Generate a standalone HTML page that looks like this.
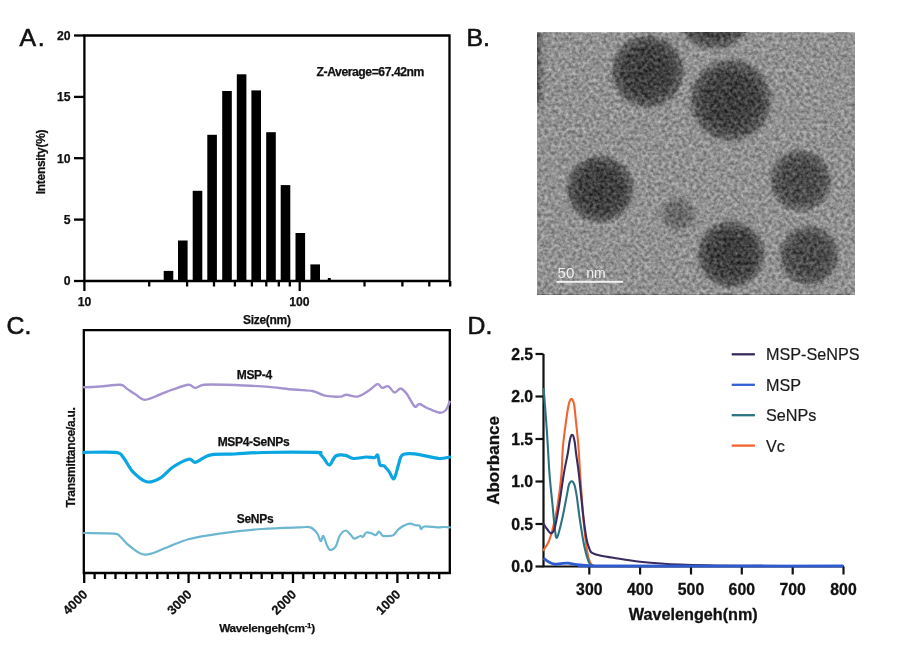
<!DOCTYPE html>
<html><head><meta charset="utf-8"><style>
html,body{margin:0;padding:0;background:#fff;}
svg{display:block;filter:blur(0.3px);}
</style></head><body>
<svg width="900" height="645" viewBox="0 0 900 645">
<rect width="900" height="645" fill="#fff"/>
<g stroke="#000" stroke-width="2.3" fill="none">
<path d="M84.4,35.5 H449.5 V281 H84.4 Z"/>
<path d="M74,281.0 H84.4"/>
<path d="M74,219.6 H84.4"/>
<path d="M74,158.2 H84.4"/>
<path d="M74,96.9 H84.4"/>
<path d="M74,35.5 H84.4"/>
<path d="M84.4,281 V291"/>
<path d="M299.7,281 V291"/>
<path d="M149.2,281 V286.5"/>
<path d="M187.1,281 V286.5"/>
<path d="M214.0,281 V286.5"/>
<path d="M234.9,281 V286.5"/>
<path d="M251.9,281 V286.5"/>
<path d="M266.3,281 V286.5"/>
<path d="M278.8,281 V286.5"/>
<path d="M289.8,281 V286.5"/>
<path d="M364.5,281 V286.5"/>
<path d="M402.4,281 V286.5"/>
<path d="M429.3,281 V286.5"/>
<path d="M450.2,281 V286.5"/>
</g>
<g font-family='"Liberation Sans", sans-serif' font-weight="bold" fill="#111" stroke="#111" stroke-width="0.25" font-size="12.2" text-anchor="end">
<text x="70.6" y="285.4">0</text>
<text x="70.6" y="224.0">5</text>
<text x="70.6" y="162.7">10</text>
<text x="70.6" y="101.3">15</text>
<text x="70.6" y="39.9">20</text>
</g>
<g font-family='"Liberation Sans", sans-serif' font-weight="bold" fill="#111" stroke="#111" stroke-width="0.25" font-size="12.2" text-anchor="middle">
<text x="84.6" y="305.5">10</text><text x="299.3" y="305.5">100</text>
</g>
<g font-family='"Liberation Sans", sans-serif' font-weight="bold" fill="#111" stroke="#111" stroke-width="0.25" font-size="12" letter-spacing="-0.3" text-anchor="middle">
<text x="266.8" y="323.9">Size(nm)</text>
<text transform="translate(44.8,162) rotate(-90)">Intensity(%)</text>
</g>
<text x="316.6" y="76.2" font-family='"Liberation Sans", sans-serif' font-weight="bold" fill="#111" stroke="#111" stroke-width="0.25" font-size="12.2" letter-spacing="-0.45">Z-Average=67.42nm</text>
<g fill="#000">
<rect x="163.7" y="270.9" width="9.6" height="10.1"/>
<rect x="178" y="240.5" width="9.6" height="40.5"/>
<rect x="192.7" y="190.8" width="9.6" height="90.2"/>
<rect x="207.3" y="134.8" width="9.6" height="146.2"/>
<rect x="222.2" y="91" width="9.6" height="190.0"/>
<rect x="236.8" y="74.3" width="9.6" height="206.7"/>
<rect x="251.4" y="90.4" width="9.6" height="190.6"/>
<rect x="266.2" y="132.2" width="9.6" height="148.8"/>
<rect x="280.7" y="185.1" width="9.6" height="95.9"/>
<rect x="295.5" y="233" width="9.6" height="48.0"/>
<rect x="310.4" y="264.4" width="9.6" height="16.6"/>
<rect x="327.8" y="278" width="3" height="3"/>
</g>
<g font-family='"Liberation Sans", sans-serif' font-size="24.8" fill="#111" stroke="#111" stroke-width="0.6">
<text x="19.6" y="46" letter-spacing="1.6">A.</text><text x="466.5" y="46">B.</text><text x="6.5" y="334">C.</text><text x="467.5" y="333.5">D.</text>
</g>
<defs>
<filter id="noise" x="537" y="32.8" width="318" height="262" filterUnits="userSpaceOnUse" color-interpolation-filters="sRGB"><feTurbulence type="fractalNoise" baseFrequency="0.29" numOctaves="2" seed="7" result="t"/><feColorMatrix in="t" type="matrix" values="1 0 0 0 0  1 0 0 0 0  1 0 0 0 0  0 0 0 0 1" result="g"/><feComposite in="SourceGraphic" in2="g" operator="arithmetic" k1="0" k2="1" k3="0.5" k4="-0.25"/><feGaussianBlur stdDeviation="0.6"/></filter>
<radialGradient id="np"><stop offset="0" stop-color="#3c3c3c"/><stop offset="0.6" stop-color="#424242"/><stop offset="0.85" stop-color="#606060"/><stop offset="1" stop-color="#919191" stop-opacity="0"/></radialGradient>
<radialGradient id="np2"><stop offset="0" stop-color="#484848"/><stop offset="0.6" stop-color="#4d4d4d"/><stop offset="0.85" stop-color="#676767"/><stop offset="1" stop-color="#919191" stop-opacity="0"/></radialGradient>
<radialGradient id="npl"><stop offset="0" stop-color="#646464"/><stop offset="0.55" stop-color="#707070"/><stop offset="1" stop-color="#919191" stop-opacity="0"/></radialGradient>
<linearGradient id="ledge" x1="0" x2="1" y1="0" y2="0"><stop offset="0" stop-color="#505050"/><stop offset="1" stop-color="#919191" stop-opacity="0"/></linearGradient>
</defs>
<g filter="url(#noise)">
<rect x="537" y="32.8" width="318" height="262" fill="#919191"/>
<rect x="537" y="32.8" width="12" height="70" fill="url(#ledge)"/>
<svg x="537" y="32.8" width="318" height="262" viewBox="537 32.8 318 262" overflow="hidden">
<circle cx="647.7" cy="71.5" r="40" fill="url(#np)"/>
<circle cx="714" cy="10" r="43" fill="url(#np)"/>
<circle cx="730.8" cy="100.2" r="45" fill="url(#np)"/>
<circle cx="600" cy="189" r="37" fill="url(#np)"/>
<circle cx="800.6" cy="180.5" r="34" fill="url(#np2)"/>
<circle cx="731" cy="254.2" r="37" fill="url(#np)"/>
<circle cx="809" cy="255.5" r="33" fill="url(#np2)"/>
<circle cx="678" cy="214.5" r="23" fill="url(#npl)"/>
</svg>
</g>
<g font-family='"Liberation Sans", sans-serif' font-size="14" fill="#eeeeee"><text x="557.6" y="278.2" font-size="15.2">50</text><text x="586.2" y="278">nm</text></g>
<rect x="556.4" y="280.8" width="66.7" height="2" fill="#f2f2f2"/>
<g stroke="#000" stroke-width="2.3" fill="none">
<path d="M83.8,330.2 H449.8 V573 H83.8 Z"/>
<path d="M84.2,573 V583"/>
<path d="M94.6,573 V579"/>
<path d="M105.1,573 V579"/>
<path d="M115.5,573 V579"/>
<path d="M126.0,573 V579"/>
<path d="M136.4,573 V579"/>
<path d="M146.8,573 V579"/>
<path d="M157.3,573 V579"/>
<path d="M167.7,573 V579"/>
<path d="M178.2,573 V579"/>
<path d="M188.6,573 V583"/>
<path d="M199.0,573 V579"/>
<path d="M209.5,573 V579"/>
<path d="M219.9,573 V579"/>
<path d="M230.4,573 V579"/>
<path d="M240.8,573 V579"/>
<path d="M251.2,573 V579"/>
<path d="M261.7,573 V579"/>
<path d="M272.1,573 V579"/>
<path d="M282.6,573 V579"/>
<path d="M293.0,573 V583"/>
<path d="M303.4,573 V579"/>
<path d="M313.9,573 V579"/>
<path d="M324.3,573 V579"/>
<path d="M334.8,573 V579"/>
<path d="M345.2,573 V579"/>
<path d="M355.6,573 V579"/>
<path d="M366.1,573 V579"/>
<path d="M376.5,573 V579"/>
<path d="M387.0,573 V579"/>
<path d="M397.4,573 V583"/>
<path d="M407.8,573 V579"/>
<path d="M418.3,573 V579"/>
<path d="M428.7,573 V579"/>
<path d="M439.2,573 V579"/>
</g>
<g fill="none" stroke-linejoin="round" stroke-linecap="round">
<path d="M84.0,387.3 C86.7,387.2 94.0,386.9 100.0,386.5 C106.0,386.1 115.9,384.5 120.3,384.8 C124.7,385.1 124.0,387.0 126.5,388.5 C128.9,390.0 131.9,392.1 135.0,394.0 C138.1,395.9 140.9,399.6 145.1,399.7 C149.3,399.8 155.3,396.2 160.0,394.5 C164.7,392.8 168.2,391.0 173.0,389.4 C177.8,387.8 184.8,385.1 188.5,384.8 C192.2,384.6 192.7,387.9 195.3,387.9 C197.9,387.9 199.1,385.3 204.0,384.8 C208.9,384.3 215.3,384.5 225.0,384.8 C234.7,385.1 250.7,385.6 262.0,386.4 C273.3,387.2 284.6,388.7 293.0,389.5 C301.4,390.3 307.1,390.0 312.4,391.0 C317.7,392.0 320.1,394.7 324.8,395.6 C329.5,396.5 336.7,396.8 340.3,396.6 C343.9,396.5 343.7,394.7 346.5,394.7 C349.3,394.7 353.7,397.2 357.3,396.6 C360.9,396.0 364.8,393.1 368.2,391.0 C371.6,388.9 375.2,384.7 377.5,384.2 C379.8,383.7 380.3,387.5 382.1,387.9 C383.9,388.2 386.2,385.5 388.3,386.3 C390.4,387.1 392.4,392.1 394.5,392.5 C396.6,392.9 398.6,388.2 400.7,388.5 C402.8,388.8 404.6,391.1 406.9,394.1 C409.2,397.1 412.6,404.9 414.7,406.5 C416.8,408.1 417.2,403.8 419.3,404.0 C421.4,404.2 423.7,406.6 427.1,408.0 C430.5,409.4 436.4,412.3 439.5,412.7 C442.6,413.1 444.0,412.0 445.7,410.2 C447.4,408.4 449.0,403.2 449.7,401.8" stroke="#a593d0" stroke-width="2.4"/>
<path d="M84.0,452.4 C89.3,452.4 109.0,451.5 115.6,452.4 C122.2,453.3 120.6,454.4 123.4,457.6 C126.2,460.8 128.8,467.6 132.7,471.6 C136.6,475.6 141.9,480.8 146.6,481.8 C151.2,482.8 156.2,480.3 160.6,477.8 C165.0,475.3 168.3,470.1 173.0,467.0 C177.7,463.9 184.8,460.0 188.5,459.2 C192.2,458.4 192.7,462.6 195.3,462.3 C197.9,462.0 201.2,458.9 204.0,457.6 C206.8,456.3 207.2,455.2 212.4,454.6 C217.6,454.0 226.7,454.4 235.0,454.0 C243.3,453.6 248.5,452.8 262.0,452.5 C275.5,452.2 306.4,452.2 316.0,452.4 C325.6,452.6 318.4,452.5 319.7,453.5 C321.0,454.5 322.4,456.6 324.0,458.5 C325.6,460.4 327.4,465.4 329.4,465.0 C331.4,464.6 333.1,457.6 335.8,456.0 C338.5,454.4 342.6,454.9 345.5,455.3 C348.4,455.7 350.0,458.2 353.5,458.5 C357.0,458.8 362.9,457.1 366.4,457.0 C369.9,456.9 372.5,458.0 374.4,457.7 C376.3,457.4 376.8,454.1 377.7,455.3 C378.6,456.5 378.9,463.2 380.0,465.0 C381.1,466.8 382.5,464.7 384.0,465.8 C385.5,466.9 387.3,469.4 389.0,471.5 C390.7,473.6 392.4,479.9 394.0,478.7 C395.6,477.5 397.3,468.1 398.6,464.2 C399.9,460.3 400.0,457.1 401.9,455.3 C403.8,453.6 406.5,453.7 410.0,453.7 C413.5,453.7 418.0,454.5 422.8,455.3 C427.6,456.1 434.5,458.2 439.0,458.5 C443.5,458.8 447.9,457.2 449.7,457.0" stroke="#0aa6e2" stroke-width="3.2"/>
<path d="M84.0,533.0 C89.0,533.1 108.0,533.0 114.0,533.6 C120.0,534.2 117.7,534.6 120.3,536.7 C122.9,538.8 125.5,543.0 129.6,546.0 C133.7,549.0 138.9,554.5 145.1,554.7 C151.3,555.0 159.6,550.1 166.8,547.5 C174.0,544.9 179.7,541.5 188.5,539.2 C197.3,536.9 207.2,535.3 219.5,533.6 C231.8,531.9 248.6,530.0 262.0,529.0 C275.4,528.0 291.9,527.7 300.0,527.4 C308.1,527.1 307.4,526.4 310.3,527.4 C313.2,528.4 315.5,531.1 317.2,533.4 C318.9,535.7 319.7,540.8 320.7,541.2 C321.7,541.6 322.3,535.4 323.3,536.0 C324.3,536.6 325.6,542.3 326.7,544.6 C327.8,546.9 328.5,549.5 330.0,549.8 C331.5,550.1 334.2,548.6 335.8,546.3 C337.4,544.0 338.0,538.6 339.6,536.0 C341.2,533.4 343.5,530.5 345.5,530.5 C347.5,530.5 350.2,534.6 351.7,536.0 C353.1,537.4 352.8,538.6 354.2,538.6 C355.6,538.6 358.9,536.3 360.3,536.0 C361.8,535.7 361.9,537.5 362.9,536.9 C363.9,536.3 364.9,533.2 366.4,532.6 C367.8,532.0 370.0,533.0 371.6,533.4 C373.2,533.8 374.6,535.4 375.8,535.1 C377.0,534.8 377.9,531.6 379.0,531.7 C380.1,531.8 381.2,535.0 382.7,535.7 C384.2,536.4 386.2,536.1 388.0,536.0 C389.8,535.9 391.6,536.2 393.4,535.1 C395.2,534.0 396.8,530.7 398.7,529.1 C400.6,527.5 402.8,526.2 404.7,525.3 C406.6,524.4 408.1,523.6 410.0,523.6 C411.9,523.6 414.4,524.9 416.0,525.3 C417.6,525.6 418.7,525.1 419.5,525.7 C420.3,526.3 420.2,529.0 421.0,529.1 C421.8,529.2 421.8,526.8 424.5,526.5 C427.2,526.2 434.0,527.3 437.3,527.4 C440.6,527.5 442.1,527.0 444.2,527.0 C446.3,527.0 448.9,527.3 449.8,527.4" stroke="#6cb6d0" stroke-width="2.2"/>
</g>
<g font-family='"Liberation Sans", sans-serif' font-weight="bold" fill="#111" stroke="#111" stroke-width="0.25" font-size="12" letter-spacing="-0.3" text-anchor="middle">
<text x="254.3" y="379">MSP-4</text><text x="253.5" y="446">MSP4-SeNPs</text><text x="255" y="522.8">SeNPs</text>
<text transform="translate(74.6,457.5) rotate(-90)">Transmittance/a.u.</text>
</g>
<g font-family='"Liberation Sans", sans-serif' font-weight="bold" fill="#111" stroke="#111" stroke-width="0.25" font-size="12.8" text-anchor="end">
<text transform="translate(88.2,595.3) rotate(-45)">4000</text>
<text transform="translate(192.6,595.3) rotate(-45)">3000</text>
<text transform="translate(297.0,595.3) rotate(-45)">2000</text>
<text transform="translate(401.4,595.3) rotate(-45)">1000</text>
</g>
<text x="219.2" y="631.9" font-family='"Liberation Sans", sans-serif' font-weight="bold" fill="#111" stroke="#111" stroke-width="0.25" font-size="11.8" letter-spacing="-0.3">Wavelengeh(cm<tspan dy="-4.2" font-size="8">-1</tspan><tspan dy="4.2">)</tspan></text>
<g stroke="#111" stroke-width="2.2" fill="none">
<path d="M543.5,354 V566.5 H843.5"/>
<path d="M535.5,566.5 H543.5"/>
<path d="M535.5,524.0 H543.5"/>
<path d="M535.5,481.5 H543.5"/>
<path d="M535.5,439.0 H543.5"/>
<path d="M535.5,396.5 H543.5"/>
<path d="M535.5,354.0 H543.5"/>
<path d="M589.3,566.5 V574.5"/>
<path d="M640.1,566.5 V574.5"/>
<path d="M691.0,566.5 V574.5"/>
<path d="M741.8,566.5 V574.5"/>
<path d="M792.7,566.5 V574.5"/>
<path d="M843.5,566.5 V574.5"/>
</g>
<g font-family='"Liberation Sans", sans-serif' font-weight="bold" font-size="15.8" fill="#111" stroke="#111" stroke-width="0.3" text-anchor="end">
<text x="533.1" y="572.1">0.0</text>
<text x="533.1" y="529.6">0.5</text>
<text x="533.1" y="487.1">1.0</text>
<text x="533.1" y="444.6">1.5</text>
<text x="533.1" y="402.1">2.0</text>
<text x="533.1" y="359.6">2.5</text>
</g>
<g font-family='"Liberation Sans", sans-serif' font-weight="bold" font-size="15.8" fill="#111" stroke="#111" stroke-width="0.3" text-anchor="middle">
<text x="589.3" y="594.6">300</text>
<text x="640.1" y="594.6">400</text>
<text x="691.0" y="594.6">500</text>
<text x="741.8" y="594.6">600</text>
<text x="792.7" y="594.6">700</text>
<text x="843.5" y="594.6">800</text>
</g>
<text x="693.3" y="620" text-anchor="middle" font-family='"Liberation Sans", sans-serif' font-weight="bold" font-size="16.2" fill="#111" stroke="#111" stroke-width="0.3">Wavelengeh(nm)</text>
<text transform="translate(499,460.4) rotate(-90)" text-anchor="middle" font-family='"Liberation Sans", sans-serif' font-weight="bold" font-size="17" fill="#111" stroke="#111" stroke-width="0.3">Aborbance</text>
<g fill="none" stroke-linejoin="round" stroke-linecap="round" stroke-width="2.1">
<path d="M543.5,550.2 C544.4,548.7 547.2,545.2 548.8,541.3 C550.4,537.4 551.8,532.7 553.3,526.6 C554.8,520.5 556.4,513.1 557.7,504.5 C559.1,495.9 560.5,484.8 561.4,475.0 C562.3,465.2 562.1,455.3 563.0,445.8 C563.9,436.3 565.6,424.7 566.5,417.9 C567.4,411.1 568.0,408.0 568.6,405.0 C569.2,402.0 569.7,401.0 570.2,400.0 C570.7,399.0 571.0,399.1 571.4,399.1 C571.8,399.1 572.1,399.0 572.6,400.0 C573.1,401.0 573.7,402.0 574.2,405.0 C574.7,408.0 574.9,411.1 575.6,417.9 C576.3,424.7 577.6,435.6 578.4,445.8 C579.2,456.0 579.6,466.9 580.5,479.3 C581.4,491.7 582.4,507.9 583.5,520.0 C584.6,532.1 586.1,544.6 587.2,551.7 C588.3,558.8 589.1,560.2 590.1,562.5 C591.1,564.8 592.5,565.0 593.0,565.5" stroke="#f0652e"/>
<path d="M543.7,389.0 C544.2,395.8 545.8,415.7 546.8,430.0 C547.8,444.3 548.6,462.6 549.6,475.0 C550.6,487.4 551.6,495.7 552.5,504.5 C553.4,513.3 554.0,522.5 554.7,528.0 C555.5,533.5 555.8,539.2 557.0,537.7 C558.2,536.2 560.5,526.0 562.1,519.2 C563.7,512.4 565.4,502.6 566.5,497.1 C567.6,491.6 568.0,488.5 568.6,486.0 C569.2,483.5 569.9,482.8 570.4,482.0 C570.9,481.2 571.3,481.2 571.7,481.2 C572.1,481.2 572.5,481.2 573.0,482.0 C573.5,482.8 574.1,483.5 574.8,486.0 C575.4,488.5 576.1,491.6 576.9,497.1 C577.7,502.6 578.6,511.1 579.8,519.2 C581.0,527.3 582.7,538.7 584.2,545.8 C585.7,552.9 587.5,558.8 588.7,562.0 C589.9,565.2 590.6,564.4 591.5,565.0 C592.4,565.6 593.6,565.7 594.0,565.8" stroke="#2d7282"/>
<path d="M543.5,523.7 C544.1,524.7 546.1,527.9 547.4,529.5 C548.7,531.1 549.9,533.5 551.1,533.2 C552.3,533.0 553.4,532.8 554.7,528.0 C556.1,523.2 557.7,513.3 559.2,504.5 C560.7,495.7 562.2,483.6 563.6,475.0 C565.0,466.4 566.9,458.4 567.9,452.8 C568.9,447.2 569.1,444.3 569.6,441.5 C570.1,438.7 570.6,437.1 571.0,436.0 C571.4,434.9 571.7,434.8 572.1,434.8 C572.5,434.8 572.9,434.9 573.3,436.0 C573.7,437.1 574.1,438.7 574.6,441.5 C575.1,444.3 575.3,447.2 576.0,452.8 C576.7,458.4 577.9,465.1 579.0,475.0 C580.1,484.9 581.6,501.3 582.8,511.9 C584.0,522.5 585.3,532.2 586.4,538.4 C587.5,544.6 588.6,546.6 589.5,549.0 C590.4,551.4 590.2,551.7 592.0,552.8 C593.8,553.9 596.5,554.7 600.0,555.5 C603.5,556.3 606.6,556.8 613.3,557.8 C620.0,558.8 628.9,560.6 640.0,561.7 C651.1,562.8 662.8,563.9 680.0,564.6 C697.2,565.3 716.1,565.6 743.3,565.8 C770.5,566.0 826.4,566.0 843.0,566.0" stroke="#392b5e"/>
<path d="M543.5,558.3 C544.4,558.9 546.9,561.0 548.8,562.0 C550.7,563.0 552.7,563.9 554.7,564.2 C556.7,564.5 558.8,563.8 561.0,563.6 C563.2,563.4 565.4,563.0 568.0,563.2 C570.6,563.4 573.4,564.2 576.9,564.6 C580.4,565.0 584.9,565.4 588.7,565.6 C592.6,565.8 557.6,565.9 600.0,566.0 C642.4,566.1 802.5,566.0 843.0,566.0" stroke="#2f5bd0" stroke-width="2.8" stroke-linecap="butt"/>
</g>
<path d="M731.7,354.3 H754.9" stroke="#392b5e" stroke-width="2.3"/>
<text x="766" y="360.3" font-family='"Liberation Sans", sans-serif' font-size="16.2" fill="#1a1a1a" stroke="#1a1a1a" stroke-width="0.2">MSP-SeNPS</text>
<path d="M731.7,384.8 H754.9" stroke="#3360d4" stroke-width="2.3"/>
<text x="766" y="390.8" font-family='"Liberation Sans", sans-serif' font-size="16.2" fill="#1a1a1a" stroke="#1a1a1a" stroke-width="0.2">MSP</text>
<path d="M731.7,415.2 H754.9" stroke="#2d7282" stroke-width="2.3"/>
<text x="766" y="421.2" font-family='"Liberation Sans", sans-serif' font-size="16.2" fill="#1a1a1a" stroke="#1a1a1a" stroke-width="0.2">SeNPs</text>
<path d="M731.7,445.6 H754.9" stroke="#f0652e" stroke-width="2.3"/>
<text x="766" y="451.6" font-family='"Liberation Sans", sans-serif' font-size="16.2" fill="#1a1a1a" stroke="#1a1a1a" stroke-width="0.2">Vc</text>
</svg></body></html>
